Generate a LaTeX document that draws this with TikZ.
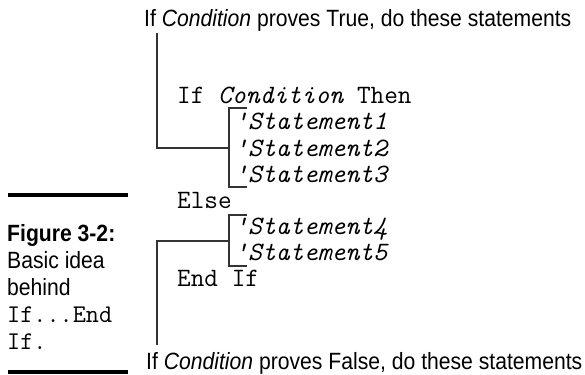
\documentclass[tikz,border=0pt]{standalone}
\usepackage{fontspec}
\setmainfont[FakeStretch=0.9]{Liberation Sans}
\tikzset{
  conn/.style={line width=1.2pt, black!80},
  rulebar/.style={line width=4.5pt},
  lbl/.style={anchor=base west, inner sep=0pt, font=\fontsize{23.5}{28}\selectfont},
  code/.style={anchor=base west, inner sep=0pt, font=\fontsize{26.5}{28}\selectfont\ttfamily},
  capcode/.style={anchor=base west, inner sep=0pt, font=\fontsize{25.5}{28}\selectfont\ttfamily}
}
\begin{document}
\begin{tikzpicture}[x=1pt, y=-1pt]
\useasboundingbox (0,0) rectangle (585,374);
% Legenda
\draw[rulebar] (8,195) -- (128,195);
\node[lbl] (figno) at (7,241) {\textbf{Figure 3-2:}};
\node[lbl] (capa) at (7,268) {Basic idea};
\node[lbl] (capb) at (7,295) {behind};
\node[capcode] (capc) at (7,322) {If...End};
\node[capcode] (capd) at (7,349) {If.};
\draw[rulebar] (8,372) -- (128,372);
% Codigo
\node[code] (ifline) at (177,104) {If {\itshape Condition} Then};
\node[code] (stmtone) at (234,130) {\itshape 'Statement1};
\node[code] (stmttwo) at (234,156) {\itshape 'Statement2};
\node[code] (stmtthree) at (234,182) {\itshape 'Statement3};
\node[code] (elseline) at (177,208) {Else};
\node[code] (stmtfour) at (234,234) {\itshape 'Statement4};
\node[code] (stmtfive) at (234,260) {\itshape 'Statement5};
\node[code] (endline) at (177,286) {End If};
% Textos
\node[lbl] (truelbl) at (144,27) {If \textit{Condition} proves True, do these statements};
\node[lbl] (falselbl) at (146,369) {If \textit{Condition} proves False, do these statements};
% Chaves
\coordinate (truetop) at (157,33);
\coordinate (falsebot) at (157,345);
\coordinate (brA) at (229,148);
\coordinate (brAtop) at (229,108);
\coordinate (brAbot) at (229,187);
\coordinate (brB) at (229,241);
\coordinate (brBtop) at (229,215);
\coordinate (brBbot) at (229,266);
\draw[conn] ([xshift=18pt]brAtop) -- (brAtop) -- (brAbot) -- ([xshift=18pt]brAbot);
\draw[conn] ([xshift=18pt]brBtop) -- (brBtop) -- (brBbot) -- ([xshift=18pt]brBbot);
\draw[conn] (truetop) |- (brA);
\draw[conn] (falsebot) |- (brB);
\end{tikzpicture}
\end{document}
